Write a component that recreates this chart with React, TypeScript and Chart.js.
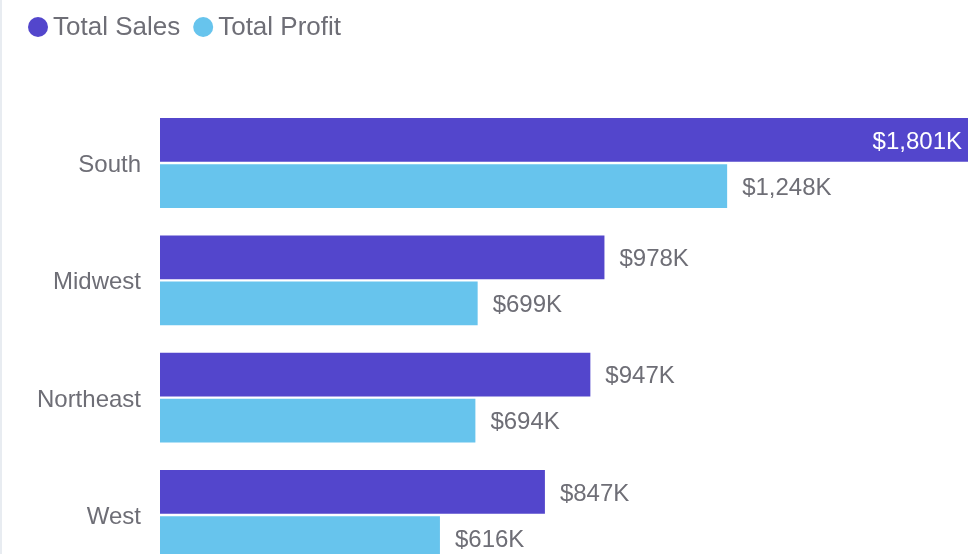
import React, { useEffect, useRef } from 'react';
import { Chart, registerables } from 'chart.js';

Chart.register(...registerables);

const categories = ['South', 'Midwest', 'Northeast', 'West'];
const totalSales = [1801, 978, 947, 847];
const totalProfit = [1248, 699, 694, 616];
const seriesNames = ['Total Sales', 'Total Profit'];
const seriesColors = ['#5346CC', '#67C4ED'];

const FONT = '"Liberation Sans", Arial, sans-serif';
const TEXT = '#6e6e76';
const CANVAS_W = 968;
const CANVAS_H = 580;

const fmt = (v: number) => '$' + v.toLocaleString('en-US') + 'K';

const valueLabels = {
  id: 'valueLabels',
  afterDatasetsDraw(chart: any) {
    const ctx = chart.ctx;
    ctx.save();
    ctx.font = `24px ${FONT}`;
    ctx.textBaseline = 'middle';
    chart.data.datasets.forEach((ds: any, i: number) => {
      const meta = chart.getDatasetMeta(i);
      meta.data.forEach((bar: any, j: number) => {
        const text = fmt(ds.data[j]);
        const w = ctx.measureText(text).width;
        const endX = bar.x;
        const ty = bar.y + 2;
        if (endX + 15 + w > chart.width) {
          ctx.fillStyle = '#ffffff';
          ctx.textAlign = 'right';
          ctx.fillText(text, Math.min(endX, chart.width) - 6, ty);
        } else {
          ctx.fillStyle = TEXT;
          ctx.textAlign = 'left';
          ctx.fillText(text, endX + 15, ty);
        }
      });
    });
    ctx.restore();
  },
};

const customLegend = {
  id: 'customLegend',
  afterDraw(chart: any) {
    const ctx = chart.ctx;
    ctx.save();
    ctx.font = `26px ${FONT}`;
    ctx.textBaseline = 'middle';
    ctx.textAlign = 'left';
    let x = 28;
    const y = 27;
    seriesNames.forEach((name, i) => {
      ctx.beginPath();
      ctx.fillStyle = seriesColors[i];
      ctx.arc(x + 10, y, 10, 0, Math.PI * 2);
      ctx.fill();
      ctx.fillStyle = TEXT;
      ctx.fillText(name, x + 25, y + 1);
      const w = ctx.measureText(name).width;
      x = x + 25 + w + 13;
    });
    ctx.restore();
  },
};

export default function App() {
  const ref = useRef<HTMLCanvasElement | null>(null);

  useEffect(() => {
    if (!ref.current) return;
    const chart = new Chart(ref.current, {
      type: 'bar',
      data: {
        labels: categories,
        datasets: [
          {
            label: seriesNames[0],
            data: totalSales,
            backgroundColor: seriesColors[0],
            borderWidth: 0,
            categoryPercentage: 0.785,
            barPercentage: 0.95,
          },
          {
            label: seriesNames[1],
            data: totalProfit,
            backgroundColor: seriesColors[1],
            borderWidth: 0,
            categoryPercentage: 0.785,
            barPercentage: 0.95,
          },
        ],
      },
      options: {
        indexAxis: 'y',
        responsive: false,
        maintainAspectRatio: false,
        animation: false,
        layout: { padding: { top: 104.3, bottom: CANVAS_H - 573.7, left: 0, right: 0 } },
        scales: {
          x: { display: false, min: 0, max: 1778 },
          y: {
            grid: { display: false, drawTicks: false },
            border: { display: false },
            ticks: { color: TEXT, font: { size: 24, family: FONT }, padding: 19, labelOffset: 2.5 },
            afterFit: (scale: any) => {
              scale.width = 160;
              scale.paddingTop = 0;
              scale.paddingBottom = 0;
            },
          },
        },
        plugins: {
          legend: { display: false },
          tooltip: { enabled: false },
        },
      },
      plugins: [valueLabels, customLegend],
    });
    return () => chart.destroy();
  }, []);

  return (
    <div
      style={{
        position: 'fixed',
        left: 0,
        top: 0,
        width: CANVAS_W,
        height: 554,
        overflow: 'hidden',
        background: '#ffffff',
      }}
    >
      <div style={{ position: 'absolute', left: 0, top: 0, width: CANVAS_W, height: CANVAS_H }}>
        <canvas
          ref={ref}
          width={CANVAS_W}
          height={CANVAS_H}
          style={{ display: 'block', width: CANVAS_W, height: CANVAS_H }}
        />
      </div>
      <div
        style={{
          position: 'absolute',
          left: 0,
          top: 0,
          width: 2,
          height: 554,
          background: '#e8ecf1',
        }}
      />
    </div>
  );
}
